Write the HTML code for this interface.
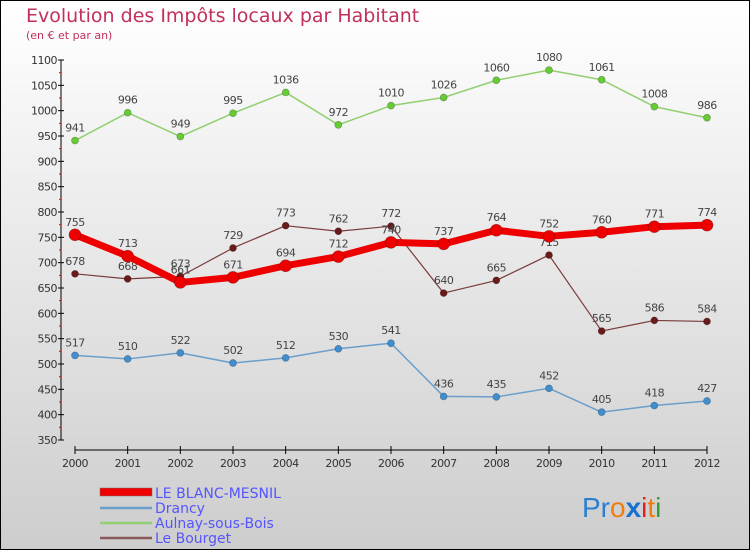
<!DOCTYPE html>
<html><head><meta charset="utf-8"><style>
body{margin:0}
svg{display:block;font-family:"DejaVu Sans","Liberation Sans",sans-serif}
</style></head><body>
<svg id="c" width="750" height="550" viewBox="0 0 750 550">
<defs><linearGradient id="bg" x1="0" y1="0" x2="0" y2="1"><stop offset="0" stop-color="#ffffff"/><stop offset="1" stop-color="#cdcdcd"/></linearGradient></defs>
<rect x="0.5" y="0.5" width="749" height="549" fill="url(#bg)" stroke="#000"/>
<text x="26" y="22" font-size="19" fill="#c0305a">Evolution des Impôts locaux par Habitant</text>
<text x="26" y="39" font-size="11" fill="#c0305a">(en € et par an)</text>
<g id="axes"></g>
<g id="series"></g>
<g>
<rect x="100" y="488" width="52" height="8" fill="#ee0000" stroke="#777" stroke-width="0.5"/>
<line x1="100" y1="508" x2="152" y2="508" stroke="#6a9fcc" stroke-width="2.5"/>
<line x1="100" y1="523" x2="152" y2="523" stroke="#90d070" stroke-width="2.5"/>
<line x1="100" y1="538" x2="152" y2="538" stroke="#8a5a5a" stroke-width="2.5"/>
<g font-size="14" fill="#5555ff">
<text x="155" y="498">LE BLANC-MESNIL</text>
<text x="155" y="513">Drancy</text>
<text x="155" y="528">Aulnay-sous-Bois</text>
<text x="155" y="543">Le Bourget</text>
</g></g>
<text x="582" y="517" font-size="28" font-family="Liberation Sans, sans-serif"><tspan fill="#2a7fd0">Pr</tspan><tspan fill="#f07c10">o</tspan><tspan fill="#1a70d0" font-weight="bold">x</tspan><tspan fill="#e02020">i</tspan><tspan fill="#f07c10">t</tspan><tspan fill="#30a030">i</tspan></text>
</svg>
<script>
const years=[2000,2001,2002,2003,2004,2005,2006,2007,2008,2009,2010,2011,2012];
const blancMesnil=[755,713,661,671,694,712,740,737,764,752,760,771,774];
const drancy=[517,510,522,502,512,530,541,436,435,452,405,418,427];
const aulnay=[941,996,949,995,1036,972,1010,1026,1060,1080,1061,1008,986];
const bourget=[678,668,673,729,773,762,772,640,665,715,565,586,584];
const yTicks=[350,400,450,500,550,600,650,700,750,800,850,900,950,1000,1050,1100];
const NS="http://www.w3.org/2000/svg";
const x=i=>75+i*(707-75)/(years.length-1);
const y=v=>440-(v-350)*380/750;
function mk(t,a,p){const e=document.createElementNS(NS,t);for(const k in a)e.setAttribute(k,a[k]);p.appendChild(e);return e;}
const ax=document.getElementById('axes');
let e=mk('line',{x1:61,y1:60,x2:61,y2:440,stroke:'#000','stroke-width':1},ax);


e=mk('line',{x1:75,y1:450,x2:707,y2:450,stroke:'#000','stroke-width':1},ax);


yTicks.forEach((v,i)=>{
 mk('line',{x1:58,y1:y(v),x2:64,y2:y(v),stroke:'#000'},ax);
 if(i<yTicks.length-1) mk('line',{x1:59,y1:y(v+25),x2:61,y2:y(v+25),stroke:'#e00'},ax);
 const t=mk('text',{x:57,y:y(v)+4,'font-size':11,fill:'#333','text-anchor':'end','letter-spacing':'-0.5'},ax);
 t.textContent=v;
 
 
});
years.forEach((yr,i)=>{
 mk('line',{x1:x(i),y1:446,x2:x(i),y2:454,stroke:'#000'},ax);
 const t=mk('text',{x:x(i),y:467,'font-size':11,fill:'#333','text-anchor':'middle','letter-spacing':'-0.5'},ax);
 t.textContent=yr;
 
 
});
const sg=document.getElementById('series');
function series(name,vals,col,w,r,dot){
 const g=mk('g',{},sg);
 
 
 const pl=mk('polyline',{points:vals.map((v,i)=>x(i)+','+y(v)).join(' '),fill:'none',stroke:col,'stroke-width':w,'stroke-linejoin':'round'},g);
 
 
 vals.forEach((v,i)=>{
  const c=mk('circle',{cx:x(i),cy:y(v),r:r,fill:dot,stroke:'rgba(0,0,0,0.3)','stroke-width':0.7},g);
  
  
  const t=mk('text',{x:x(i),y:y(v)-9,'font-size':11,fill:'#444','text-anchor':'middle','letter-spacing':'-0.5'},g);
  t.textContent=v;
  
  
 });
}
series('drancy',drancy,'#6a9fcc',1.5,3.5,'#3f8fd0');
series('aulnay',aulnay,'#90d070',1.5,3.5,'#66cc33');
series('bourget',bourget,'#7a3a3a',1.2,3.5,'#6a1a1a');
series('blanc-mesnil',blancMesnil,'#ee0000',7,6,'#ee0000');
</script>
</body></html>
